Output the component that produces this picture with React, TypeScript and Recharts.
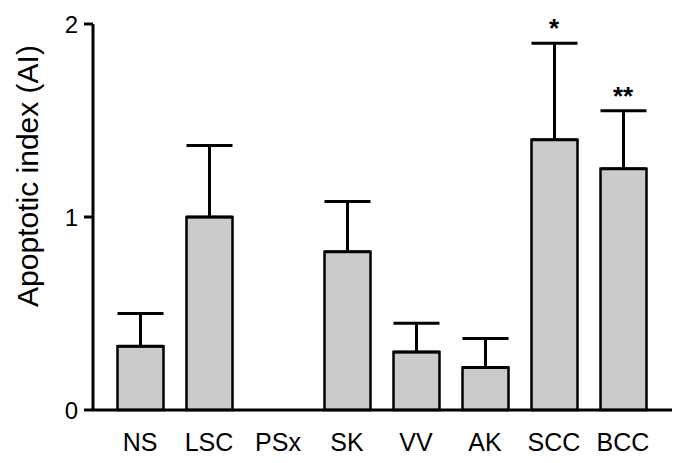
import { ComposedChart, Bar, Line, XAxis, YAxis, ErrorBar, LabelList, Label } from 'recharts';

const categories = ['NS', 'LSC', 'PSx', 'SK', 'VV', 'AK', 'SCC', 'BCC'];
const means = [0.33, 1.0, 0, 0.82, 0.3, 0.22, 1.4, 1.25];
const errors = [0.17, 0.37, 0, 0.26, 0.15, 0.15, 0.5, 0.3];
const marks = ['', '', '', '', '', '', '*', '**'];
const yTicks = [0, 1, 2];

const data = categories.map((name, i) => ({
  name,
  value: means[i],
  err: [0, errors[i]],
  top: means[i] + errors[i],
  mark: marks[i],
}));

const FONT = 'Liberation Sans, Arial, sans-serif';

const Example = () => (
  <div style={{ position: 'absolute', left: 0, top: 0 }}>
    <ComposedChart
      width={682}
      height={463}
      data={data}
      barSize={46}
      margin={{ top: 24, right: 10, left: 0, bottom: 0 }}
    >
      <XAxis
        dataKey="name"
        height={53}
        padding={{ left: 12.5, right: 14.5 }}
        tickLine={false}
        tickSize={0}
        tickMargin={23}
        axisLine={{ stroke: '#000', strokeWidth: 3 }}
        tick={{ fill: '#000', fontSize: 25, fontFamily: FONT }}
      />
      <YAxis
        width={93}
        domain={[0, 2]}
        ticks={yTicks}
        tickSize={9}
        tickMargin={6}
        axisLine={{ stroke: '#000', strokeWidth: 3 }}
        tickLine={{ stroke: '#000', strokeWidth: 3 }}
        tick={{ fill: '#000', fontSize: 24, fontFamily: FONT }}
      >
        <Label
          content={() => (
            <text
              transform="translate(27,176) rotate(-90)"
              textAnchor="middle"
              dominantBaseline="central"
              fontFamily={FONT}
              fontSize={30}
              fill="#000"
            >
              Apoptotic index (AI)
            </text>
          )}
        />
      </YAxis>
      <Bar dataKey="value" fill="#cbcbcb" stroke="#000" strokeWidth={2.5} isAnimationActive={false}>
        <ErrorBar dataKey="err" width={23} stroke="#000" strokeWidth={3} direction="y" />
      </Bar>
      <Line
        dataKey="top"
        stroke="none"
        dot={false}
        activeDot={false}
        isAnimationActive={false}
      >
        <LabelList
          dataKey="mark"
          position="top"
          offset={6}
          fill="#000"
          fontFamily={FONT}
          fontSize={26}
          fontWeight="bold"
        />
      </Line>
    </ComposedChart>
  </div>
);

export default Example;
